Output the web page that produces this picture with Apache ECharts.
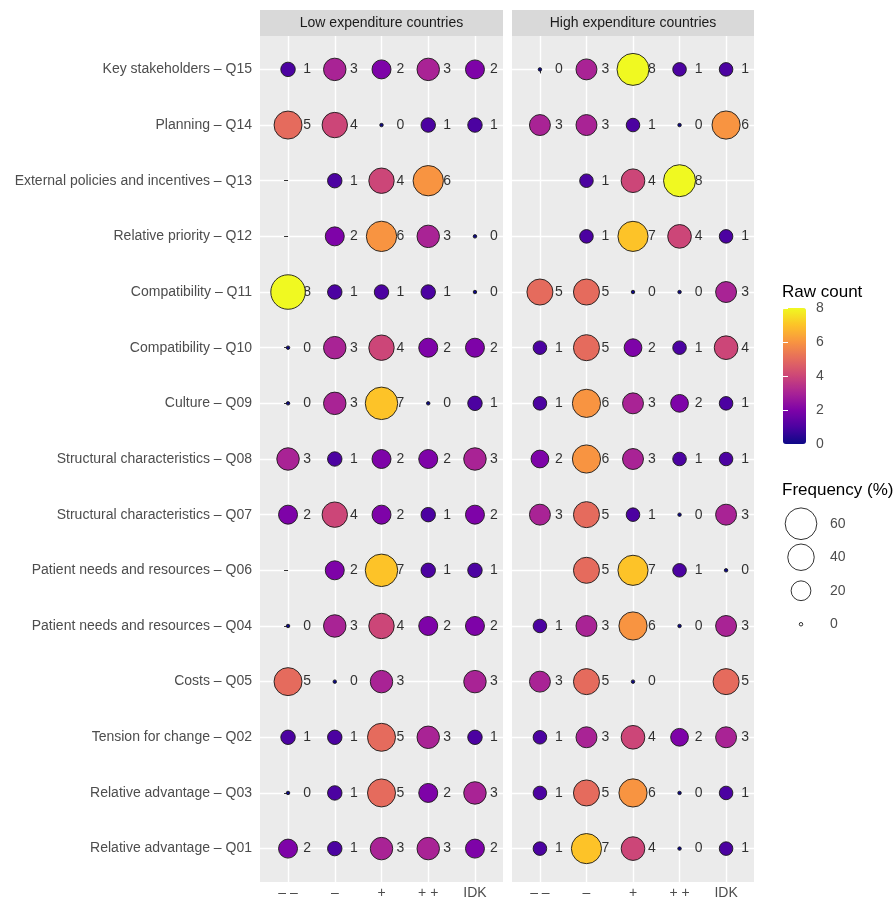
<!DOCTYPE html>
<html>
<head>
<meta charset="utf-8">
<script src="https://cdn.jsdelivr.net/npm/echarts@6/dist/echarts.min.js"></script>
<style>html,body{margin:0;padding:0;background:#fff}#c{width:895px;height:900px}</style>
</head>
<body>
<div id="c"></div>
<script>
// ---- data ----
const rowLabels = [
  'Key stakeholders – Q15',
  'Planning – Q14',
  'External policies and incentives – Q13',
  'Relative priority – Q12',
  'Compatibility – Q11',
  'Compatibility – Q10',
  'Culture – Q09',
  'Structural characteristics – Q08',
  'Structural characteristics – Q07',
  'Patient needs and resources – Q06',
  'Patient needs and resources – Q04',
  'Costs – Q05',
  'Tension for change – Q02',
  'Relative advantage – Q03',
  'Relative advantage – Q01'
];
const xLabels = ['– –', '–', '+', '+ +', 'IDK'];
const panelTitles = ['Low expenditure countries', 'High expenditure countries'];
// raw counts per row (columns: – –, –, +, + +, IDK); null = category not shown
const lowCounts = [
  [1, 3, 2, 3, 2],
  [5, 4, 0, 1, 1],
  [null, 1, 4, 6, null],
  [null, 2, 6, 3, 0],
  [8, 1, 1, 1, 0],
  [0, 3, 4, 2, 2],
  [0, 3, 7, 0, 1],
  [3, 1, 2, 2, 3],
  [2, 4, 2, 1, 2],
  [null, 2, 7, 1, 1],
  [0, 3, 4, 2, 2],
  [5, 0, 3, null, 3],
  [1, 1, 5, 3, 1],
  [0, 1, 5, 2, 3],
  [2, 1, 3, 3, 2]
];
const highCounts = [
  [0, 3, 8, 1, 1],
  [3, 3, 1, 0, 6],
  [null, 1, 4, 8, null],
  [null, 1, 7, 4, 1],
  [5, 5, 0, 0, 3],
  [1, 5, 2, 1, 4],
  [1, 6, 3, 2, 1],
  [2, 6, 3, 1, 1],
  [3, 5, 1, 0, 3],
  [null, 5, 7, 1, 0],
  [1, 3, 6, 0, 3],
  [3, 5, 0, null, 5],
  [1, 3, 4, 2, 3],
  [1, 5, 6, 0, 1],
  [1, 7, 4, 0, 1]
];
const nLow = 11;
const nHigh = 13;
const sizeLegendValues = ['60', '40', '20', '0'];
const plasma = ['#0D0887', '#4C02A1', '#7E03A8', '#A92395', '#CC4678', '#E56B5D', '#F89441', '#FDC328', '#F0F921'];

// ---- build ----
function build(counts, n) {
  const out = [];
  counts.forEach((row, r) => row.forEach((v, c) => {
    if (v !== null) out.push([c, r, v, v / n * 100]);
  }));
  return out;
}
const lowData = build(lowCounts, nLow);
const highData = build(highCounts, nHigh);
const maxFreq = 8 / nLow * 100;
const sizeOf = f => 3.5 + 31 * Math.sqrt(f / maxFreq);

const FONT = 'Liberation Sans, Arial, sans-serif';
const idxX = [0, 1, 2, 3, 4];
const idxY = rowLabels.map((_, i) => i);

const panels = [{left: 260, width: 243}, {left: 512, width: 242}];
const grids = panels.map(p => ({left: p.left, width: p.width, top: 36, height: 846, show: true, backgroundColor: '#EBEBEB', borderWidth: 0}));
grids.push({left: 783, top: 308, width: 23, height: 136});
grids.push({left: 785, top: 507, width: 32, height: 134});

const xAxes = panels.map((p, i) => ({
  type: 'value', gridIndex: i, min: -0.6, max: 4.6,
  axisLine: {show: false},
  axisTick: {show: true, customValues: idxX, length: 4, lineStyle: {color: '#333', width: 1}},
  axisLabel: {customValues: idxX, formatter: v => xLabels[v], color: '#4D4D4D', fontSize: 14, fontFamily: FONT, margin: 4},
  splitLine: {show: true, lineStyle: {color: '#fff', width: 1.4}}
}));
xAxes.push({type: 'value', gridIndex: 2, show: false, min: 0, max: 1});
xAxes.push({type: 'value', gridIndex: 3, show: false, min: 0, max: 2});

const yAxes = panels.map((p, i) => ({
  type: 'value', gridIndex: i, min: -0.6, max: 14.6, inverse: true,
  axisLine: {show: false},
  axisTick: {show: i === 0, customValues: idxY, length: 4, lineStyle: {color: '#333', width: 1}},
  axisLabel: {show: i === 0, customValues: idxY, formatter: v => rowLabels[v], color: '#4D4D4D', fontSize: 14, fontFamily: FONT, margin: 8},
  splitLine: {show: true, lineStyle: {color: '#fff', width: 1.4}}
}));
yAxes.push({type: 'value', gridIndex: 2, min: 0, max: 8, interval: 2, position: 'right', z: 10,
  axisLine: {show: false}, splitLine: {show: false},
  axisTick: {show: true, inside: true, length: 5, lineStyle: {color: '#fff', width: 1}},
  axisLabel: {color: '#4D4D4D', fontSize: 14, fontFamily: FONT, margin: 10}});
yAxes.push({type: 'value', gridIndex: 2, min: 0, max: 8, interval: 2, position: 'left', z: 10,
  axisLine: {show: false}, splitLine: {show: false}, axisLabel: {show: false},
  axisTick: {show: true, inside: true, length: 5, lineStyle: {color: '#fff', width: 1}}});
yAxes.push({type: 'category', gridIndex: 3, data: sizeLegendValues, position: 'right', inverse: true,
  axisLine: {show: false}, axisTick: {show: false}, splitLine: {show: false},
  axisLabel: {color: '#4D4D4D', fontSize: 14, fontFamily: FONT, margin: 13}});

function bubbleSeries(data, i) {
  return {
    type: 'scatter', xAxisIndex: i, yAxisIndex: i, z: 3, data: data, silent: true,
    symbolSize: v => sizeOf(v[3]),
    itemStyle: {borderColor: '#1a1a1a', borderWidth: 0.9, opacity: 1}
  };
}
function labelSeries(data, i) {
  return {
    type: 'scatter', xAxisIndex: i, yAxisIndex: i, z: 2, data: data, silent: true,
    symbolSize: 1, itemStyle: {color: 'rgba(0,0,0,0)'},
    label: {show: true, position: 'inside', offset: [19, 0], formatter: p => String(p.value[2]),
      color: '#000', fontSize: 14, fontFamily: FONT}
  };
}

const option = {
  animation: false,
  grid: grids,
  xAxis: xAxes,
  yAxis: yAxes,
  visualMap: {
    type: 'continuous', min: 0, max: 8, dimension: 2, seriesIndex: [0, 1],
    inRange: {color: plasma}, calculable: false, hoverLink: false, showLabel: false,
    left: 783, top: 308, itemWidth: 23, itemHeight: 136, padding: 0, orient: 'vertical', z: 4
  },
  series: [
    bubbleSeries(lowData, 0),
    bubbleSeries(highData, 1),
    labelSeries(lowData, 0),
    labelSeries(highData, 1),
    {
      type: 'scatter', xAxisIndex: 3, yAxisIndex: 4, silent: true,
      data: sizeLegendValues.map(v => [1, v, Number(v)]),
      symbolSize: v => sizeOf(v[2]),
      itemStyle: {color: '#fff', borderColor: '#000', borderWidth: 1}
    }
  ],
  graphic: [
    ...panels.map((p, i) => ({type: 'rect', left: p.left, top: 10, shape: {width: p.width, height: 26}, style: {fill: '#D9D9D9'}, silent: true})),
    ...panels.map((p, i) => ({type: 'text', x: p.left + p.width / 2, y: 23, style: {text: panelTitles[i], fill: '#1A1A1A', font: '14px ' + FONT, textAlign: 'center', textVerticalAlign: 'middle'}, silent: true})),
    {type: 'text', x: 782, y: 292, style: {text: 'Raw count', fill: '#000', font: '17px ' + FONT, textVerticalAlign: 'middle'}},
    {type: 'text', x: 782, y: 490, style: {text: 'Frequency (%)', fill: '#000', font: '17px ' + FONT, textVerticalAlign: 'middle'}}
  ]
};
const chart = echarts.init(document.getElementById('c'), null, {renderer: 'canvas'});
chart.setOption(option);
</script>
</body>
</html>
